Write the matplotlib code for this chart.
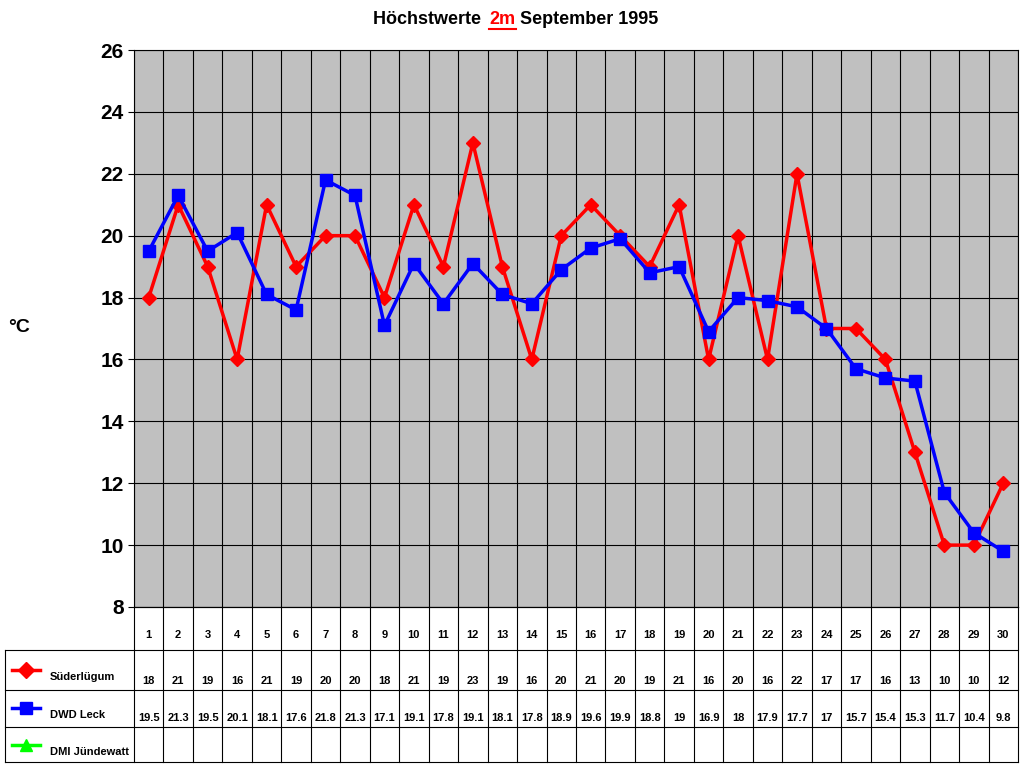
import matplotlib
matplotlib.use('Agg')
import matplotlib.pyplot as plt
import numpy as np

days = list(range(1, 31))
suederluegum = [18, 21, 19, 16, 21, 19, 20, 20, 18, 21, 19, 23, 19, 16, 20,
                21, 20, 19, 21, 16, 20, 16, 22, 17, 17, 16, 13, 10, 10, 12]
dwd_leck = [19.5, 21.3, 19.5, 20.1, 18.1, 17.6, 21.8, 21.3, 17.1, 19.1, 17.8,
            19.1, 18.1, 17.8, 18.9, 19.6, 19.9, 18.8, 19, 16.9, 18, 17.9, 17.7,
            17, 15.7, 15.4, 15.3, 11.7, 10.4, 9.8]
series_names = ['Süderlügum', 'DWD Leck', 'DMI Jündewatt']
series_colors = ['#ff0000', '#0000ff', '#00ff00']
series_markers = ['D', 's', '^']

plt.rcParams['font.family'] = ['Liberation Sans', 'DejaVu Sans']
W, H = 1024, 768
fig = plt.figure(figsize=(W / 100, H / 100), dpi=100)

# plot area in pixels
x0, x1, y0, y1 = 134, 1018, 50, 607
ax = fig.add_axes([x0 / W, 1 - y1 / H, (x1 - x0) / W, (y1 - y0) / H])
ax.set_facecolor('#c0c0c0')
ax.set_xlim(0.5, 30.5)
ax.set_ylim(8, 26)
ax.set_yticks(range(8, 27, 2))
ax.set_xticks(np.arange(0.5, 31, 1))
ax.set_xticklabels([])
ax.tick_params(axis='x', length=0)
ax.tick_params(axis='y', labelsize=15, length=4)
for t in ax.get_yticklabels():
    t.set_fontweight('bold')
ax.grid(True, color='black', linewidth=0.8)
for s in ax.spines.values():
    s.set_linewidth(0.8)
ax.plot(days, suederluegum, color=series_colors[0], marker='D', markersize=7, linewidth=2.5)
ax.plot(days, dwd_leck, color=series_colors[1], marker='s', markersize=8, linewidth=2.5)
fig.text(8 / W, 1 - 328 / H, '°C', fontsize=14, fontweight='bold', va='center')

# title
ty = 1 - 20 / H
t1 = fig.text(373 / W, ty, 'Höchstwerte ', fontsize=13, fontweight='bold', va='center')
fig.text(489 / W, ty, '2m', fontsize=13, fontweight='bold', color='red', va='center')
fig.add_artist(plt.Line2D([489 / W, 516 / W], [1 - 29 / H] * 2, color='red', linewidth=1.5))
fig.text(520 / W, ty, 'September 1995', fontsize=13, fontweight='bold', va='center')

# data table in pixel coords
tab = fig.add_axes([0, 0, 1, 1], facecolor='none')
tab.set_xlim(0, W)
tab.set_ylim(H, 0)
tab.axis('off')
cw = (x1 - x0) / 30
rows = [650, 690, 727, 762]
for i in range(31):
    tab.plot([x0 + i * cw] * 2, [y1, rows[-1]], color='black', linewidth=0.8)
tab.plot([x0, x1], [y1, y1], color='black', linewidth=0.8)
for r in rows:
    tab.plot([5, x1], [r, r], color='black', linewidth=0.8)
tab.plot([5, 5], [rows[0], rows[-1]], color='black', linewidth=0.8)
for i, d in enumerate(days):
    cx = x0 + (i + 0.5) * cw
    tab.text(cx, 635, str(d), ha='center', va='center', fontsize=8, fontweight='bold')
    tab.text(cx, 681, f'{suederluegum[i]:g}', ha='center', va='center', fontsize=8, fontweight='bold')
    tab.text(cx, 718, f'{dwd_leck[i]:g}', ha='center', va='center', fontsize=8, fontweight='bold')
for k, name in enumerate(series_names):
    ly = rows[k] + 22 + (k == 0) * 2
    tab.plot([12, 40], [ly - 4, ly - 4], color=series_colors[k], linewidth=2.5)
    tab.plot([26], [ly - 4], marker=series_markers[k], color=series_colors[k], markersize=8)
    tab.text(50, ly + 8, name, fontsize=8, fontweight='bold', va='bottom')

fig.savefig('out.png', dpi=100)
